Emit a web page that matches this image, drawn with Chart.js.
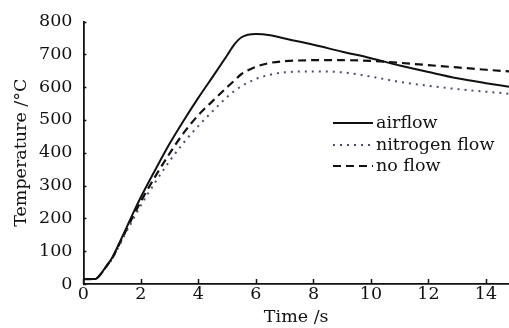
<!DOCTYPE html>
<html>
<head>
<meta charset="utf-8">
<script src="https://cdn.jsdelivr.net/npm/chart.js@4"></script>
<style>
html,body{margin:0;padding:0;background:#fff;}
#wrap{width:509px;height:328px;position:relative;}
</style>
</head>
<body>
<div id="wrap"><canvas id="c" width="509" height="328"></canvas></div>
<script>
const times = [0,0.4,0.6,0.8,1.0,1.25,1.5,1.75,2,2.5,3,3.5,4,4.5,5,5.25,5.5,6,6.5,7,8,9,10,11,12,13,14,14.8];
const airflow = [15,15,30,55,80,125,172,220,265,348,428,500,568,632,697,730,752,762,758,748,729,708,688,666,646,627,612,601];
const nitrogenFlow = [15,15,30,52,76,118,160,200,240,310,375,432,482,527,570,588,603,625,638,645,648,645,632,616,604,594,586,580];
const noFlow = [15,15,30,54,78,122,166,210,252,328,398,462,515,558,600,620,640,662,674,679,682,682,680,674,667,660,653,648];
const seriesLabels = ['airflow','nitrogen flow','no flow'];
const xTicks = [0,2,4,6,8,10,12,14];

const FONT = 'DejaVu Serif';
function pts(ys){return times.map((t,i)=>({x:t,y:ys[i]}));}

const inwardTicks = {
  id:'inwardTicks',
  afterDatasetsDraw(chart){
    const ctx = chart.ctx, xs = chart.scales.x, ys = chart.scales.y, a = chart.chartArea;
    ctx.save();
    ctx.strokeStyle = '#111'; ctx.lineWidth = 1.5;
    xs.ticks.forEach(t=>{const p = Math.round(xs.getPixelForValue(t.value))+0.5; ctx.beginPath(); ctx.moveTo(p,a.bottom); ctx.lineTo(p,a.bottom-5); ctx.stroke();});
    ys.ticks.forEach(t=>{const p = Math.round(ys.getPixelForValue(t.value))+0.5; ctx.beginPath(); ctx.moveTo(a.left,p); ctx.lineTo(a.left+3,p); ctx.stroke();});
    // legend
    ctx.font = '17.5px "' + FONT + '"';
    ctx.textBaseline = 'middle';
    ctx.fillStyle = '#111';
    const rows = [123,145,166];
    chart.data.datasets.forEach((ds,i)=>{
      ctx.strokeStyle = ds.borderColor; ctx.lineWidth = ds.borderWidth;
      ctx.setLineDash(ds.borderDash||[]);
      ctx.beginPath(); ctx.moveTo(333,rows[i]); ctx.lineTo(373,rows[i]); ctx.stroke();
      ctx.setLineDash([]);
      ctx.fillText(ds.label, 376, rows[i]);
    });
    ctx.restore();
  }
};

new Chart(document.getElementById('c'),{
  type:'line',
  data:{datasets:[
    {label:seriesLabels[0],data:pts(airflow),borderColor:'#111',borderWidth:2,pointRadius:0,cubicInterpolationMode:'monotone',borderDash:[]},
    {label:seriesLabels[1],data:pts(nitrogenFlow),borderColor:'#4a506c',borderWidth:2,pointRadius:0,cubicInterpolationMode:'monotone',borderDash:[2,5]},
    {label:seriesLabels[2],data:pts(noFlow),borderColor:'#111',borderWidth:2.2,pointRadius:0,cubicInterpolationMode:'monotone',borderDash:[8,5]}
  ]},
  options:{
    responsive:false,animation:false,
    layout:{padding:{top:11,right:0,left:11,bottom:0}},
    plugins:{legend:{display:false},tooltip:{enabled:false}},
    scales:{
      x:{type:'linear',min:0,max:14.8,
        afterBuildTicks(s){s.ticks = xTicks.map(v=>({value:v}));},
        grid:{display:true,drawOnChartArea:false,drawTicks:false},
        border:{color:'#111',width:1.8},
        ticks:{color:'#111',padding:0,maxRotation:0,font:{family:FONT,size:17.5}},
        title:{display:true,text:'Time /s',color:'#111',padding:{top:2,bottom:0},font:{family:FONT,size:17.5}}
      },
      y:{type:'linear',min:0,max:800,
        grid:{display:true,drawOnChartArea:false,drawTicks:false},
        border:{color:'#111',width:1.8},
        ticks:{color:'#111',stepSize:100,padding:11,font:{family:FONT,size:17.5}},
        title:{display:true,text:'Temperature /°C',color:'#111',padding:{top:0,bottom:-4},font:{family:FONT,size:17.5}}
      }
    }
  },
  plugins:[inwardTicks]
});
</script>
</body>
</html>
